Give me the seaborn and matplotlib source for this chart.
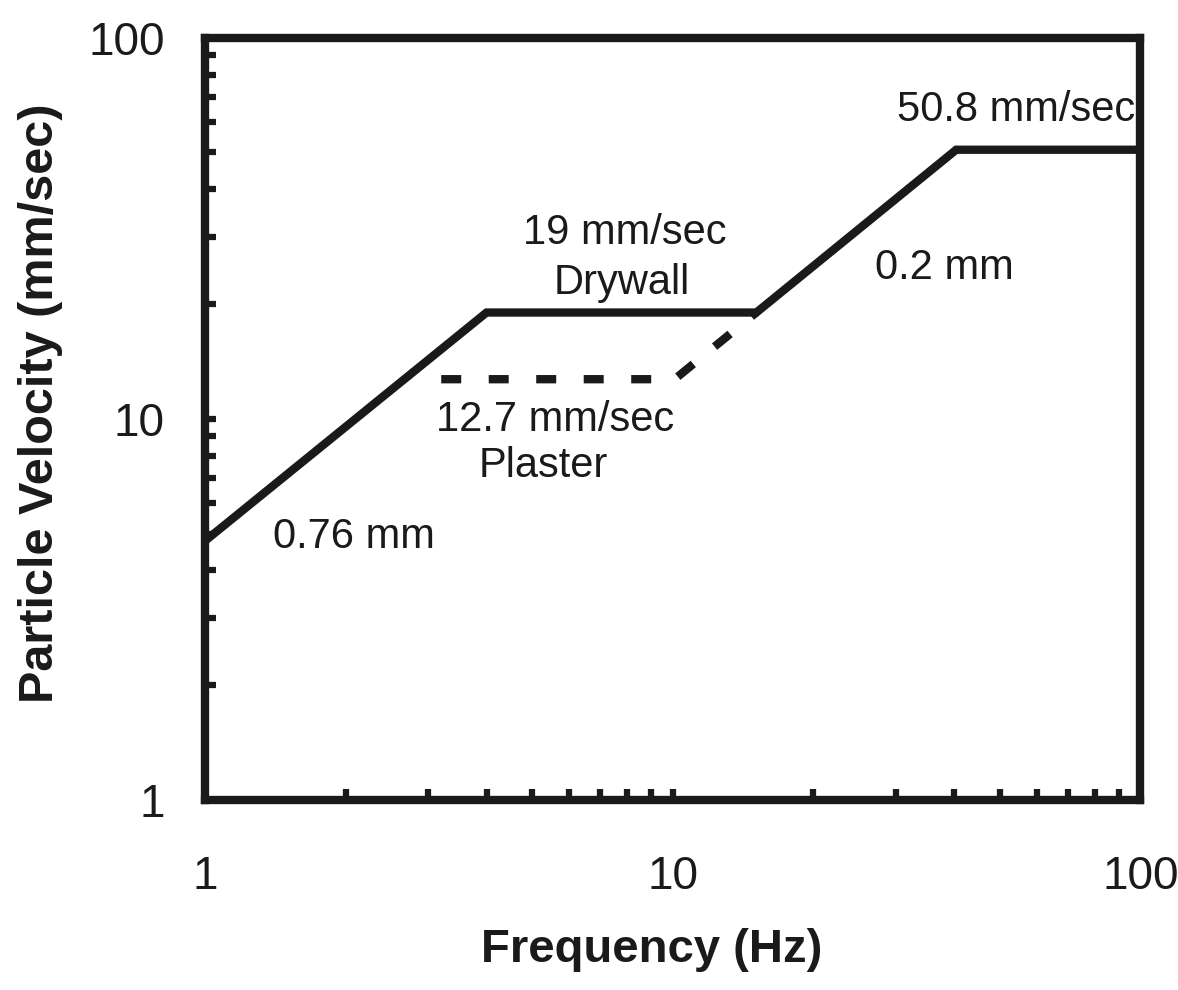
import matplotlib
matplotlib.use("Agg")
import matplotlib.pyplot as plt
import matplotlib.ticker as mticker
import seaborn as sns
import pandas as pd

# Data
solid_freq = [1, 4.0, 15.1, 40.4, 100]
solid_vel = [4.78, 19.0, 19.0, 50.8, 50.8]
dashed_freq = [3.2, 10.1, 15.1]
dashed_vel = [12.7, 12.7, 19.0]
x_ticks = [1, 10, 100]
y_ticks = [1, 10, 100]

sns.set_style("white")
plt.rcParams['font.family'] = ['Liberation Sans', 'DejaVu Sans']

fig = plt.figure(figsize=(11.78, 9.9), dpi=100)
ax = fig.add_axes([0.174, 0.192, 0.794, 0.770])

solid_df = pd.DataFrame({"f": solid_freq, "v": solid_vel})
dashed_df = pd.DataFrame({"f": dashed_freq, "v": dashed_vel})

sns.lineplot(data=solid_df, x="f", y="v", ax=ax, color="#1a1a1a", lw=6,
             estimator=None, sort=False, solid_joinstyle="miter")
sns.lineplot(data=dashed_df, x="f", y="v", ax=ax, color="#1a1a1a", lw=6,
             estimator=None, sort=False, dashes=False)
ax.lines[-1].set_dashes((2.4, 3.3))
ax.lines[-1].set_dash_capstyle("butt")

ax.set_xscale("log")
ax.set_yscale("log")
ax.set_xlim(1, 100)
ax.set_ylim(1, 100)

ax.xaxis.set_major_locator(mticker.FixedLocator(x_ticks))
ax.yaxis.set_major_locator(mticker.FixedLocator(y_ticks))
ax.xaxis.set_major_formatter(mticker.FixedFormatter([str(t) for t in x_ticks]))
ax.yaxis.set_major_formatter(mticker.FixedFormatter([str(t) for t in y_ticks]))
ax.xaxis.set_minor_locator(mticker.LogLocator(base=10, subs=range(2, 10)))
ax.yaxis.set_minor_locator(mticker.LogLocator(base=10, subs=range(2, 10)))
ax.xaxis.set_minor_formatter(mticker.NullFormatter())
ax.yaxis.set_minor_formatter(mticker.NullFormatter())

ax.tick_params(axis="both", which="both", direction="in", length=8, width=4.5,
               color="#1a1a1a", bottom=True, left=True, top=False, right=False)
ax.tick_params(axis="x", which="major", labelsize=33, pad=40, labelcolor="#1a1a1a")
ax.tick_params(axis="y", which="major", labelsize=33, pad=29, labelcolor="#1a1a1a")

for s in ax.spines.values():
    s.set_linewidth(6)
    s.set_color("#1a1a1a")
    s.set_visible(True)

ax.set_xlabel("Frequency (Hz)", fontsize=34, fontweight="bold", color="#1a1a1a")
ax.set_ylabel("Particle Velocity (mm/sec)", fontsize=35, fontweight="bold", color="#1a1a1a")
ax.xaxis.set_label_coords(0.478, -0.168)
ax.yaxis.set_label_coords(-0.152, 0.52)

tc = "#1a1a1a"
ax.text(7.9, 30.8, "19 mm/sec", fontsize=30, ha="center", va="center", color=tc)
ax.text(7.8, 22.7, "Drywall", fontsize=30, ha="center", va="center", color=tc)
ax.text(5.6, 9.9, "12.7 mm/sec", fontsize=30, ha="center", va="center", color=tc)
ax.text(5.3, 7.5, "Plaster", fontsize=30, ha="center", va="center", color=tc)
ax.text(1.40, 4.9, "0.76 mm", fontsize=30, ha="left", va="center", color=tc)
ax.text(27.1, 24.9, "0.2 mm", fontsize=30, ha="left", va="center", color=tc)
ax.text(30.2, 64.7, "50.8 mm/sec", fontsize=30, ha="left", va="center", color=tc)

fig.savefig("out.png", dpi=100)
